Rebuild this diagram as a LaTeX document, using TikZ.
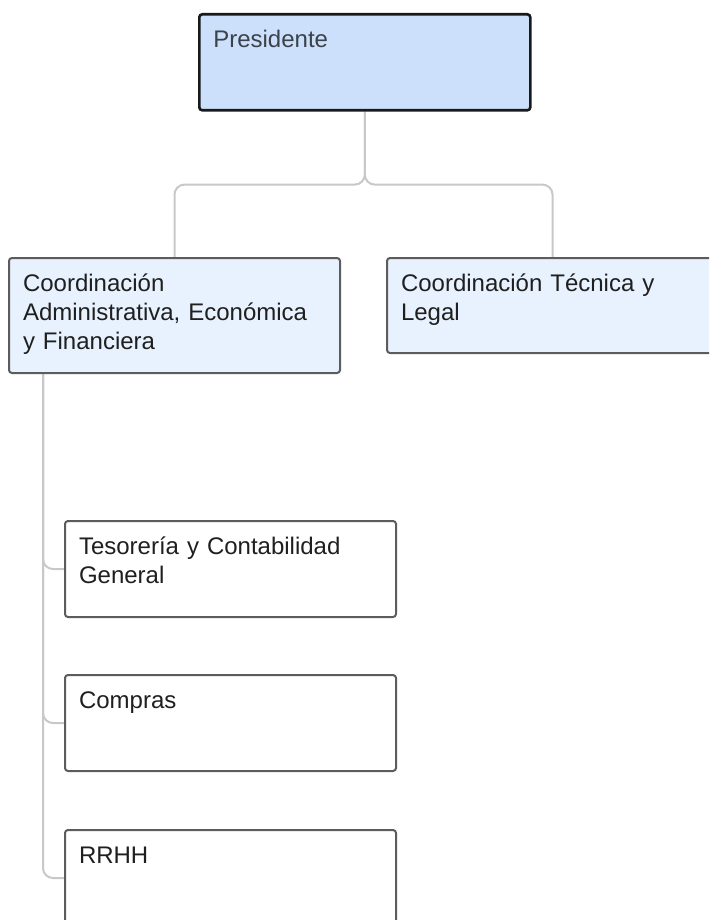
\documentclass[tikz,border=0pt]{standalone}
\usepackage{fontspec}
\setmainfont{Liberation Sans}
\usepackage{tikz}
\usetikzlibrary{backgrounds}

\definecolor{presfill}{HTML}{CCE0FC}
\definecolor{coordfill}{HTML}{E8F2FE}
\definecolor{boxgray}{HTML}{5C5C5C}
\definecolor{linkgray}{HTML}{C8C8C8}
\definecolor{prestext}{HTML}{3C424A}

\tikzset{
	orgbox/.style={draw=boxgray,line width=2pt,rounded corners=3pt,anchor=north west,
		align=left,text width=303pt,inner xsep=14pt,inner ysep=0pt,text height=33pt,
		text depth=63pt,text=black!88,font=\fontsize{24}{29}\selectfont},
	link/.style={draw=linkgray,line width=2pt,rounded corners=10pt}
}

\begin{document}
\begin{tikzpicture}[x=1pt,y=-1pt]
	\useasboundingbox (0,0) rectangle (709,920);
	\clip (0,0) rectangle (709,920);
			% top level
			\node [orgbox,fill=presfill,draw=black!90,line width=2.6pt,text=prestext] (pres) at (198,13) {Presidente};
			% coordinations
			\node [orgbox,fill=coordfill,text depth=82pt] (coordAdm) at (8,257) {Coordinación\\Administrativa, Económica\\y Financiera};
			\node [orgbox,fill=coordfill,text depth=62pt] (coordTec) at (386,257) {Coordinación Técnica y\\Legal};
			% departments
			\node [orgbox,fill=white] (teso) at (64,520) {Tesorería y Contabilidad\\General};
			\node [orgbox,fill=white] (compras) at (64,674) {Compras};
			\node [orgbox,fill=white] (rrhh) at (64,829) {RRHH};
			\begin{pgfonlayer}{background}
				\coordinate (split) at ([yshift=-73pt]pres.south);
				\coordinate (trunk) at ([xshift=35pt]coordAdm.south west);
				\draw [link] (pres.south) -- (split) -| (coordAdm.north);
				\draw [link] (pres.south) -- (split) -| (coordTec.north);
				\draw [link] (trunk) |- (teso.west);
				\draw [link] (trunk) |- (compras.west);
				\draw [link] (trunk) |- (rrhh.west);
			\end{pgfonlayer}
\end{tikzpicture}
\end{document}
